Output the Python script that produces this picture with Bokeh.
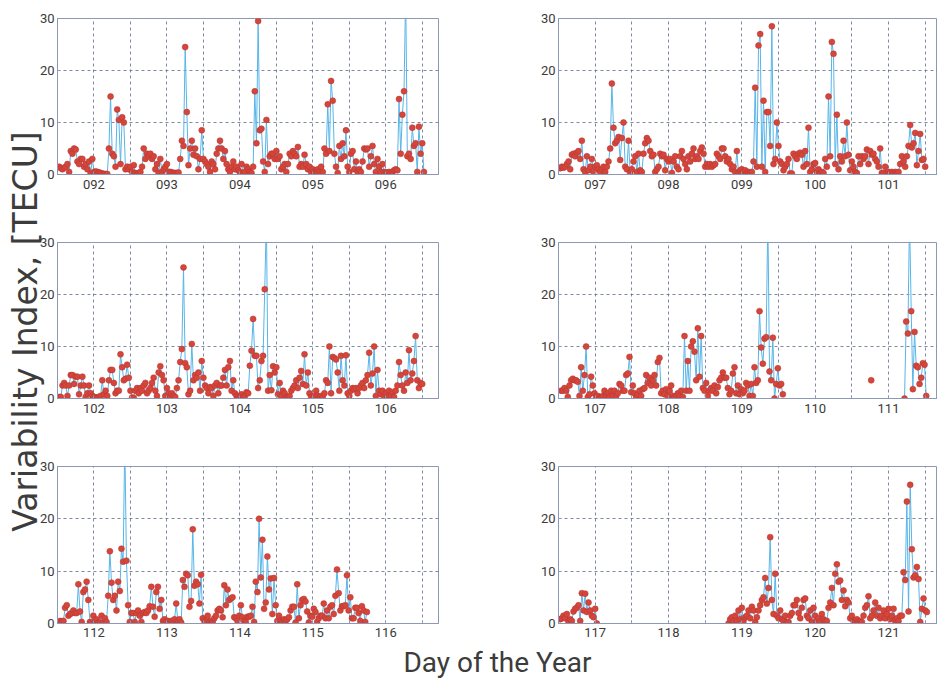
import numpy as np
from math import pi
from bokeh.plotting import figure
from bokeh.models import Range1d, FixedTicker, ColumnDataSource
from bokeh.layouts import row, column
from bokeh.embed import file_html
from bokeh.resources import INLINE
from bokeh.core.properties import value

nan = float("nan")

# ---------------------------------------------------------------------------
# TEC variability index, April 2015 (samples roughly every half hour)
# ---------------------------------------------------------------------------

# days 091.5 - 096.5
doy_092_096 = (91.523, 96.523)
tec_092_096 = [
    1.5, 1.2, 1, 1.3, 1.5, 2, 0.5, 4.5, 4, 5,
    4.8, 2.5, 2, 3, 3, 1.5, 2, 1, 2.5, 0.2,
    3, 0.5, 0.6, 0.5, 0.4, 0.3, 0.2, 0.1, 0.1, 0.1,
    5, 15, 4, 3.5, 1.5, 12.5, 10.5, 2, 11, 10,
    1, 1.5, 1, 1.5, 0.5, 1.8, 0.3, 0.2, 0.3, 0.5,
    1.5, 5, 3, 4, 3.5, 4, 3, 3.5, 1, 2,
    0.3, 3, 0.5, 1, 1.5, 2, 0.5, 0.5, 0.4, 0.3,
    0.3, 0.3, 0.4, 3, 6.5, 5.5, 24.5, 12, 1.8, 5,
    6.5, 3.8, 5, 3.5, 1, 3, 8.5, 3, 2.5, 2,
    1.5, 0.5, 2.5, 2, 1, 4, 5, 6.5, 5, 3,
    4.5, 2, 1, 0.5, 1.5, 2.5, 1, 1.5, 0.8, 0.5,
    2, 0.3, 0.5, 1.5, 1, 0.5, 0.3, 1.5, 16, 6,
    29.5, 8.5, 8.8, 2.5, 0.5, 10.5, 2, 3.5, 4, 4,
    3, 4.5, 3, 3.5, 1, 1.5, 2, 0.5, 2, 4,
    3.5, 4.5, 4, 3.5, 5.3, 1.5, 2, 1.5, 3.8, 2,
    1, 1.5, 0.5, 1, 0.5, 0.3, 1, 0.5, 1.5, 0.5,
    5, 4, 13.5, 4.5, 18, 14.2, 4, 1.5, 0.3, 5.5,
    3, 6, 3.5, 8.5, 1.5, 0.5, 4, 4.5, 1, 2.5,
    0.5, 1, 0.5, 2.5, 5, 4.8, 5, 1.5, 3.5, 5.5,
    2, 0.5, 3, 1.5, 0.5, 2, 0.5, 0.3, 0.4, 0.5,
    0.3, 0.5, 0.8, 1, 0.8, 14.5, 4, 11.5, 16, 35,
    3.5, 4, 3, 9, 5.5, 6, 0.5, 9.2, 4, 6,
    0.5,
]

# days 096.5 - 101.5
doy_097_101 = (96.523, 101.5)
tec_097_101 = [
    1.2, 1.5, 1.3, 1.5, 2, 2.5, 1, 3.8, 4, 3.5,
    4.2, 4.5, 3, 6.5, 1, 0.5, 3.5, 0.8, 1.5, 3,
    0.5, 1.5, 1.8, 1, 0.5, 1, 1.5, 0.5, 1.5, 2.5,
    5, 17.5, 9, 6, 6.5, 7.2, 2.8, 7, 10, 1.5,
    1, 6.5, 0.3, 1, 2.5, 3.5, 0.5, 4, 0.8, 0.5,
    4, 6, 7, 6.5, 4.5, 3.5, 3.8, 0.5, 1, 1.5,
    4, 3.5, 3.8, 0.8, 3, 2.5, 3, 0.3, 2.5, 3.5,
    1.5, 1, 3.5, 4.5, 3, 2, 1, 3.5, 2.5, 4,
    5, 3, 3.5, 3, 4.5, 5.2, 4, 1.5, 2, 1.5,
    2, 1.5, 1.8, 2, 4, 3.5, 3, 5, 5, 3.5,
    2.5, 3, 2, 1, 1.5, 0.5, 4.5, 0.3, 0.8, 1,
    0.5, 0.8, 0.3, 0.5, 0.3, 0.5, 2.5, 16.7, 1.5, 24.8,
    27, 1.5, 14.2, 0.5, 12, 12, 5.5, 28.5, 2, 3,
    10, 5.5, 2.5, 2, 0.8, 1.5, 2, 3, 0.2, 0.2,
    4, 3.5, 3, 4, 4.2, 3.8, 1.5, 4.5, 2, 9,
    0.5, 1, 2, 2.2, 0.5, 1, 0.3, 0.5, 0.3, 3,
    1.5, 15, 3.5, 25.5, 23.2, 2, 11.5, 1, 3.5, 2.5,
    6.5, 3.5, 10, 3.8, 0.8, 2.5, 1.5, 0.5, 0.3, 3.5,
    2, 3.5, 3, 3.5, 4.8, 2, 4.5, 3.8, 4, 3,
    2.5, 1.5, 5, 0.3, 0.3, 1.5, 0.3, 0.5, 0.3, 0.5,
    0.3, 0.5, 0.3, 0.5, 2, 3.5, 2.5, 1.5, 3.5, 5.5,
    9.5, 5.2, 6, 8, 1.8, 4.5, 7.8, 2.8, 3, 1.5,
]

# days 101.5 - 106.5
doy_102_106 = (101.523, 106.5)
tec_102_106 = [
    0.3, 0.3, 2.5, 3, 2.5, 0.5, 2.5, 4.5, 4.5, 2.8,
    4.2, 4.2, 0.8, 2.5, 4.2, 2.5, 0.3, 1, 2.5, 1,
    0.5, 0.3, 0.2, 0.2, 0.3, 0.5, 3.5, 0.8, 1.5, 0.5,
    3.5, 5.5, 5.5, 3, 1, 1.5, 1.5, 8.5, 6, 3.5,
    3.8, 6.5, 4, 1.5, 0.2, 0.1, 1.5, 2, 1, 2,
    1.5, 2.5, 3, 1, 1.5, 2, 3, 4, 1.5, 0.5,
    5, 6.2, 4.5, 3.5, 0.5, 2, 1, 0.3, 1, 0.5,
    0.3, 2, 3.5, 7, 9.5, 25.2, 6.8, 6, 0.8, 1.5,
    10.5, 3.5, 4.5, 4, 5, 1.5, 7.2, 4, 2.5, 2,
    1, 2.2, 2, 0.5, 2.5, 3, 1, 2.5, 2.5, 4,
    5.5, 2.5, 6, 7.2, 1.5, 3.5, 1, 0.5, 0.5, 0.3,
    0.8, 0.3, 0.5, 1.2, 1, 6.3, 9.2, 15.3, 8.2, 8.2,
    2, 3.5, 7.2, 8.2, 21, 35, 1.5, 4.5, 1.6, 6.2,
    5, 6, 0.8, 3, 0.5, 1.5, 1, 0.3, 0.2, 0.5,
    1.5, 2, 2.5, 3.5, 2, 4, 5.3, 2.8, 8.5, 2.5,
    5, 1, 0.3, 0.2, 0.5, 1.5, 0.5, 0.3, 0.5, 0.3,
    1, 3.5, 3, 10, 1, 8, 7.8, 7.5, 5, 1.5,
    8.2, 3.5, 2.5, 8.3, 1, 0.5, 1.5, 2, 1.8, 2,
    1, 2, 2.5, 3, 2, 3.5, 4.5, 8.8, 2.5, 4.8,
    10, 0.5, 5.5, 1.5, 0.8, 1.5, 0.5, 1, 0.3, 1.5,
    0.5, 1.2, 0.3, 1.5, 2.5, 7, 4.5, 2.5, 1.5, 5,
    3, 9.3, 3.5, 4.8, 7.2, 12, 3.5, 2, 3, 2.8,
]

# days 106.5 - 111.5 (data gap on 109.6 - 111.2)
doy_107_111 = (106.536, 111.514)
tec_107_111 = [
    1.5, 1.5, 2, 1.5, 0.3, 2.5, 3.5, 3.8, 3.5, 3.5,
    3.2, 0.5, 6, 1.5, 4.5, 10, 0.3, 0.8, 4.2, 2.5,
    1, 0.3, 0.5, 0.2, 0.2, 0.5, 1.5, 0.5, 1, 0.3,
    1.5, 0.5, 1.5, 0.5, 1, 2.8, 2.5, 1.5, 1.5, 4.5,
    4.8, 8, 1.2, 2.5, 1, 0.3, 0.8, 1.5, 0.5, 1.8,
    2, 4.5, 3, 4, 2.5, 3.5, 4.5, 2.5, 7, 7.8,
    1, 1.5, 0.8, 1.8, 0.5, 1.5, 2.5, 0.5, 0.2, 0.5,
    1, 0.5, 1.5, 0.3, 12, 1.5, 7.2, 1.5, 10, 11,
    9, 3.5, 13.5, 4.2, 12, 2, 1.5, 3, 0.5, 1.5,
    2, 1.5, 2.5, 1, 2.2, 3.5, 4, 5, 4, 4,
    2, 0.8, 1.5, 4.8, 6, 1, 2.5, 0.8, 1.8, 1,
    1.5, 3, 2.5, 0.5, 2.8, 0.5, 6, 3, 3.5, 16.8,
    9.8, 6.7, 11.5, 11.8, 35, 5.2, 3.5, 11.7, 0, 2.8,
    5.8, 2.5, 2.8, 0.8,
] + [nan] * 52 + [3.5] + [nan] * 19 + [
    0, 14.8, 12.5, 35, 16.8, 1.8, 12.8, 6.3, 6, 2.8,
    4, 6.8, 6.5, 0.5,
]

# days 111.5 - 115.7
doy_112_116 = (111.536, 115.741)
tec_112_116 = [
    0.5, 0.3, 0.5, 3, 3.5, 1.5, 1.8, 2, 2.5, 2,
    2, 7.5, 2.3, 0.3, 6, 6.5, 8, 4.5, 0.3, 0.2,
    1.5, 0.3, 0.8, 0.2, 0.2, 1.5, 0.2, 1, 0.3, 5.3,
    13.8, 7.8, 4.5, 5.3, 2.5, 8, 6.2, 14.3, 11.8, 35,
    12, 3.5, 0.3, 2, 2, 0.3, 2, 2.5, 1.5, 0.3,
    2, 2.2, 2, 2.5, 3.3, 7, 3.2, 1.3, 6, 7,
    2.8, 4.5, 0.5, 0.8, 0.3, 0.5, 0.2, 0.5, 0.3, 0.8,
    3.8, 0.5, 0.8, 0.2, 8.3, 7, 9.5, 9.2, 3.2, 4.3,
    18, 7.2, 8, 7.5, 3.8, 9.3, 1, 0.5, 0.3, 1.5,
    0.3, 0.5, 0.3, 1, 1.5, 2.5, 2.8, 2.5, 1.2, 7.3,
    3.5, 6.5, 4.5, 4.8, 5, 1.2, 1, 0.5, 1.5, 3.5,
    1.2, 0.5, 0.3, 1.3, 1.3, 1.5, 3.2, 0.3, 8, 6,
    20, 8.8, 16, 2.8, 4, 12.8, 6.5, 8.6, 1.8, 8.7,
    3.5, 0.5, 1.5, 0.5, 0.3, 0.8, 0.5, 0.8, 1.2, 2.5,
    3.2, 3.2, 0.2, 7.5, 1, 3.5, 4.5, 4.7, 4.2, 2.3,
    0.2, 1.5, 1.3, 2.8, 2.2, 0.3, 1, 1.5, 1.5, 3.8,
    1, 2.5, 1, 3.2, 3.5, 1.8, 5.3, 10.3, 5.8, 2.5,
    3.3, 3.3, 3.5, 9.2, 2.5, 5, 1, 1, 3, 3,
    2, 0.5, 3.3, 2.5, 0.3, 2.2,
]

# days 116.5 - 121.5 (data gap on 117.0 - 118.8)
doy_117_121 = (116.523, 121.523)
tec_117_121 = [
    0.8, 1, 1.5, 1, 1.8, 0.3, 0.8, 0.5, 2.3, 2.8,
    3, 3.5, 0.5, 5.8, 2.5, 5.7, 2.2, 4, 2.5, 1.5,
    1.2, 2.8, 0,
] + [nan] * 78 + [
    0, 0.8, 1.2, 0.5, 1.5, 0.5, 2.5, 0.8, 3,
    0.5, 1.2, 1.5, 2.5, 1, 3.2, 2.5, 0.3, 1.2, 2.5,
    3.5, 4.5, 5, 8.7, 3.8, 6.8, 16.5, 4.5, 1.8, 9.5,
    1.5, 1, 2.5, 0.8, 0.5, 1.5, 0.3, 0.3, 1.5, 2,
    3.5, 3.5, 4.5, 2, 1, 3, 4.5, 4.8, 1.5, 1,
    2.5, 0.3, 3, 1.5, 0.5, 1, 0.3, 1.8, 0.8, 0.5,
    0.5, 3, 4, 6.8, 3.5, 9.5, 11.3, 8, 8.2, 4.5,
    6.3, 3.3, 4.5, 4, 1, 1.5, 0.5, 0.3, 0.8, 0.3,
    0.5, 0.3, 1.5, 3, 3.5, 5.2, 1, 1.5, 2.5, 4,
    1.5, 3, 1, 1.5, 2.5, 1, 1.8, 2.8, 0.8, 1.5,
    2.8, 0.5, 1, 0.5, 1.5, 1.5, 9.8, 8.3, 23.3, 2.3,
    26.5, 14.2, 8.8, 9.2, 10.8, 8.5, 0.3, 2.8, 4.8, 2.5,
    2.2,
]

# day-of-year tick labels per panel
labels_092_096 = ["092", "093", "094", "095", "096"]
labels_097_101 = ["097", "098", "099", "100", "101"]
labels_102_106 = ["102", "103", "104", "105", "106"]
labels_107_111 = ["107", "108", "109", "110", "111"]
labels_112_116 = ["112", "113", "114", "115", "116"]
labels_117_121 = ["117", "118", "119", "120", "121"]
y_ticks = [0, 10, 20, 30]

# ---------------------------------------------------------------------------
# styling
# ---------------------------------------------------------------------------
LINE = "#58B5E8"
DOT = "#D4453C"
DOT_EDGE = "#B9372F"
GRID = "#5F6B88"
FRAME = "#8C98B6"
TICK_TEXT = "#3a3a3a"
LABEL_TEXT = "#3c3c3c"
TICK_FONT = "Roboto"

LEFT_W, RIGHT_W = 462, 439
LEFT_SPAN, RIGHT_SPAN = 5.223, 5.168


def make_panel(span, vals, labels, x0, x_span, width, height, border, standoff=5):
    b_left, b_right, b_top, b_bottom = border
    p = figure(width=width, height=height, title=None,
               x_range=Range1d(x0, x0 + x_span), y_range=Range1d(0, 30),
               output_backend="svg", toolbar_location=None,
               min_border_left=b_left, min_border_right=b_right,
               min_border_top=b_top, min_border_bottom=b_bottom)
    p.border_fill_alpha = 0
    p.background_fill_color = "white"
    p.outline_line_color = FRAME
    p.outline_line_width = 1

    days = np.linspace(span[0], span[1], len(vals))
    src = ColumnDataSource(dict(day=days, tec=np.array(vals, dtype=float)))
    p.line("day", "tec", source=src, line_color=LINE, line_width=1)
    p.scatter("day", "tec", source=src, size=6, fill_color=DOT,
              line_color=DOT_EDGE, line_width=0.5)

    majors = [int(s) for s in labels]
    minors = [majors[0] - 0.5] + [m + 0.5 for m in majors]
    xt = FixedTicker(ticks=majors, minor_ticks=minors)
    yt = FixedTicker(ticks=y_ticks)
    p.xaxis.ticker = xt
    p.xgrid.ticker = xt
    p.yaxis.ticker = yt
    p.ygrid.ticker = yt
    p.xaxis.major_label_overrides = dict(zip(majors, labels))

    for ax in (p.xaxis[0], p.yaxis[0]):
        ax.axis_line_color = FRAME
        ax.major_tick_in = 3
        ax.major_tick_out = 0
        ax.minor_tick_in = 3
        ax.minor_tick_out = 0
        ax.major_tick_line_color = FRAME
        ax.minor_tick_line_color = FRAME
        ax.major_label_text_font = TICK_FONT
        ax.major_label_text_font_size = "13px"
        ax.major_label_text_color = TICK_TEXT
    p.xaxis.major_label_standoff = standoff
    p.yaxis.major_label_standoff = 3

    for g in (p.xgrid[0], p.ygrid[0]):
        g.grid_line_color = GRID
        g.grid_line_dash = "3 3"
        g.grid_line_width = 0.8
    p.xgrid.minor_grid_line_color = GRID
    p.xgrid.minor_grid_line_dash = "3 3"
    p.xgrid.minor_grid_line_width = 0.8
    return p


tl = make_panel(doy_092_096, tec_092_096, labels_092_096, 91.5, LEFT_SPAN, LEFT_W, 224, (19, 60, 18, 50))
ml = make_panel(doy_102_106, tec_102_106, labels_102_106, 101.5, LEFT_SPAN, LEFT_W, 224, (19, 60, 18, 50))
bl = make_panel(doy_112_116, tec_112_116, labels_112_116, 111.5, LEFT_SPAN, LEFT_W, 196, (19, 60, 18, 21), 4)
tr = make_panel(doy_097_101, tec_097_101, labels_097_101, 96.5, RIGHT_SPAN, RIGHT_W, 224, (60, 0, 18, 50))
mr = make_panel(doy_107_111, tec_107_111, labels_107_111, 106.5, RIGHT_SPAN, RIGHT_W, 224, (60, 0, 18, 50))
br = make_panel(doy_117_121, tec_117_121, labels_117_121, 116.5, RIGHT_SPAN, RIGHT_W, 196, (60, 0, 18, 21), 4)


def text_strip(width, height):
    s = figure(width=width, height=height, title=None,
               x_range=Range1d(0, width), y_range=Range1d(0, height),
               output_backend="svg", toolbar_location=None, min_border=0,
               x_axis_location=None, y_axis_location=None)
    s.grid.visible = False
    s.outline_line_color = None
    s.background_fill_alpha = 0
    s.border_fill_alpha = 0
    return s


# shared y-axis title, rotated
ylab = text_strip(46, 644)
ylab.text(x=[25], y=[313], text=["Variability Index, [TECU]"], angle=pi / 2,
          text_align="center", text_baseline="middle",
          text_font=value("DejaVu Sans"), text_font_size="33px", text_color=LABEL_TEXT)

# shared x-axis title
xlab = text_strip(937, 38)
xlab.text(x=[497], y=[20], text=["Day of the Year"], text_align="center",
          text_baseline="middle", text_font=value("Roboto"),
          text_font_size="28px", text_color=LABEL_TEXT)

left_col = column(tl, ml, bl, margin=(0, 0, 0, -10))
right_col = column(tr, mr, br)
page = column(row(ylab, left_col, right_col), xlab)

open("out.html", "w").write(file_html(page, INLINE))
